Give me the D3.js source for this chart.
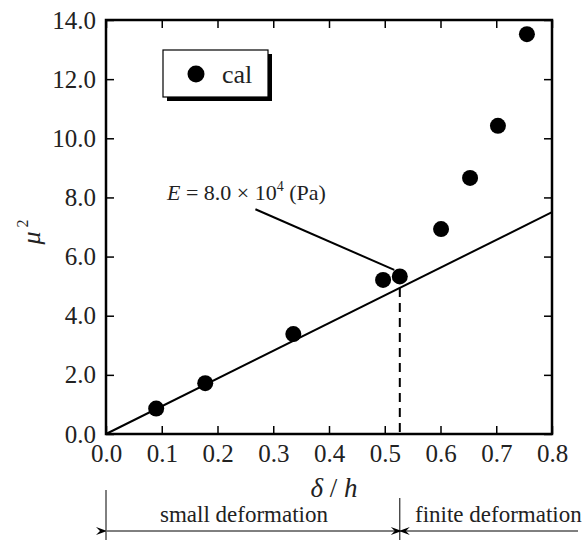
<!DOCTYPE html>
<html>
  <head>
    <meta charset="utf-8">
    <title>mu squared vs delta/h</title>
    <style>
      body { margin: 0; background: #fff; }
      svg text { font-family: 'Liberation Serif', 'DejaVu Serif', 'Times New Roman', serif; fill: #222; }
      g.axis text { font-size: 25px; }
      g.axis path.domain { display: none; }
      g.axis line { stroke: #000; stroke-width: 1.5; }
    </style>
  </head>
  <body>
    <svg id="svg1" width="584" height="542"></svg>

    <script src="https://cdnjs.cloudflare.com/ajax/libs/d3/7.8.5/d3.min.js"></script>
    <script>
      // calculated points (delta/h, mu^2)
      var calX = [0.09, 0.178, 0.336, 0.497, 0.527, 0.601, 0.653, 0.703, 0.755];
      var calY = [0.86, 1.72, 3.38, 5.21, 5.33, 6.93, 8.66, 10.42, 13.52];

      // small deformation line, E = 8.0 x 10^4 Pa
      var fitX = [0.0, 0.8];
      var fitY = [0.0, 7.5];

      // boundary between small and finite deformation
      var limitX = 0.527;

      var xTicks = [0, 0.1, 0.2, 0.3, 0.4, 0.5, 0.6, 0.7, 0.8];
      var yTicks = [0, 2, 4, 6, 8, 10, 12, 14];

      var serif = "'Liberation Serif', 'DejaVu Serif', 'Times New Roman', serif";

      var svg = d3.select("#svg1");
      var margin = {top: 20, left: 106},
          width = 446,
          height = 414;

      var g = svg.append("g").attr("transform", "translate(" + margin.left + "," + margin.top + ")");

      var x = d3.scaleLinear().domain([0, 0.8]).range([0, width]);
      var y = d3.scaleLinear().domain([0, 14]).range([height, 0]);

      // axes with inward ticks
      g.append("g").attr("class", "axis")
        .attr("transform", "translate(0," + height + ")")
        .call(d3.axisBottom(x).tickValues(xTicks).tickSize(-8).tickSizeOuter(0).tickPadding(10).tickFormat(d3.format(".1f")));
      g.append("g").attr("class", "axis")
        .call(d3.axisTop(x).tickValues(xTicks).tickSize(-8).tickSizeOuter(0).tickFormat(""));
      g.append("g").attr("class", "axis")
        .call(d3.axisLeft(y).tickValues(yTicks).tickSize(-8).tickSizeOuter(0).tickPadding(10).tickFormat(d3.format(".1f")));
      g.append("g").attr("class", "axis")
        .attr("transform", "translate(" + width + ",0)")
        .call(d3.axisRight(y).tickValues(yTicks).tickSize(-8).tickSizeOuter(0).tickFormat(""));

      // frame
      g.append("rect")
        .attr("x", 0).attr("y", 0)
        .attr("width", width).attr("height", height)
        .attr("fill", "none").attr("stroke", "#000").attr("stroke-width", 2.5);

      // fit line
      g.append("line")
        .attr("x1", x(fitX[0])).attr("y1", y(fitY[0]))
        .attr("x2", x(fitX[1])).attr("y2", y(fitY[1]))
        .attr("stroke", "#000").attr("stroke-width", 2);

      // dashed boundary
      var slope = (fitY[1] - fitY[0]) / (fitX[1] - fitX[0]);
      g.append("line")
        .attr("x1", x(limitX)).attr("y1", y(slope * limitX))
        .attr("x2", x(limitX)).attr("y2", y(0))
        .attr("stroke", "#000").attr("stroke-width", 2)
        .attr("stroke-dasharray", "9,6");

      // points
      g.selectAll("circle.cal")
        .data(calX)
        .enter()
        .append("circle")
        .attr("class", "cal")
        .attr("cx", function(d) { return x(d); })
        .attr("cy", function(d, i) { return y(calY[i]); })
        .attr("r", 8)
        .attr("fill", "#000");

      // annotation E = ...
      g.append("line")
        .attr("x1", x(0.268)).attr("y1", y(7.6))
        .attr("x2", x(0.517)).attr("y2", y(5.55))
        .attr("stroke", "#000").attr("stroke-width", 2);

      var ann = svg.append("text")
        .attr("x", 167).attr("y", 200)
        .attr("font-size", 22);
      ann.append("tspan").attr("font-style", "italic").text("E");
      ann.append("tspan").text(" = 8.0 \u00d7  10");
      ann.append("tspan").attr("font-size", 14).attr("dy", -9).text("4");
      ann.append("tspan").attr("dy", 9).text(" (Pa)");

      // legend box with shadow
      svg.append("rect")
        .attr("x", 167).attr("y", 54).attr("width", 105).attr("height", 47)
        .attr("fill", "#000");
      svg.append("rect")
        .attr("x", 163).attr("y", 50).attr("width", 105).attr("height", 47)
        .attr("fill", "#fff").attr("stroke", "#000").attr("stroke-width", 1.2);
      svg.append("circle")
        .attr("cx", 196).attr("cy", 74).attr("r", 8.5).attr("fill", "#000");
      svg.append("text")
        .attr("x", 222).attr("y", 83)
        .attr("font-size", 26)
        .text("cal");

      // axis titles
      var xt = svg.append("text")
        .attr("x", 334).attr("y", 497)
        .attr("text-anchor", "middle")
        .attr("font-size", 27);
      xt.append("tspan").attr("font-style", "italic").text("\u03b4");
      xt.append("tspan").text(" / ");
      xt.append("tspan").attr("font-style", "italic").text("h");

      var yt = svg.append("text")
        .attr("transform", "translate(40,232) rotate(-90)")
        .attr("text-anchor", "middle")
        .attr("font-size", 26);
      yt.append("tspan").attr("font-style", "italic").text("\u03bc");
      yt.append("tspan").attr("font-size", 16).attr("dx", 4).attr("dy", -12).text("2");

      // deformation ranges below the chart
      var defs = svg.append("defs");
      defs.append("marker")
        .attr("id", "arr")
        .attr("viewBox", "0 0 12 8")
        .attr("refX", 0).attr("refY", 4)
        .attr("markerWidth", 12).attr("markerHeight", 8)
        .attr("markerUnits", "userSpaceOnUse")
        .attr("orient", "auto-start-reverse")
        .append("path")
        .attr("d", "M0,4 L11,0 L7,4 L11,8 Z")
        .attr("fill", "#000");

      var dimY = 531;
      var x0 = margin.left + x(0), xb = margin.left + x(limitX);
      [x0, xb].forEach(function(px) {
        svg.append("line")
          .attr("x1", px).attr("x2", px)
          .attr("y1", px === x0 ? 490 : 498).attr("y2", 540)
          .attr("stroke", "#000").attr("stroke-width", 1);
      });
      svg.append("line")
        .attr("x1", x0 + 1).attr("x2", xb - 1)
        .attr("y1", dimY).attr("y2", dimY)
        .attr("stroke", "#000").attr("stroke-width", 1)
        .attr("marker-start", "url(#arr)")
        .attr("marker-end", "url(#arr)");
      svg.append("line")
        .attr("x1", xb + 2).attr("x2", 578)
        .attr("y1", dimY).attr("y2", dimY)
        .attr("stroke", "#000").attr("stroke-width", 1)
        .attr("marker-start", "url(#arr)");

      svg.append("text")
        .attr("x", 160).attr("y", 522)
        .attr("font-size", 23)
        .text("small deformation");
      svg.append("text")
        .attr("x", 415).attr("y", 522)
        .attr("font-size", 23)
        .text("finite deformation");

      // set the serif face on every text node, axis groups included
      svg.selectAll("text, g").attr("font-family", serif);
    </script>
  </body>
</html>
